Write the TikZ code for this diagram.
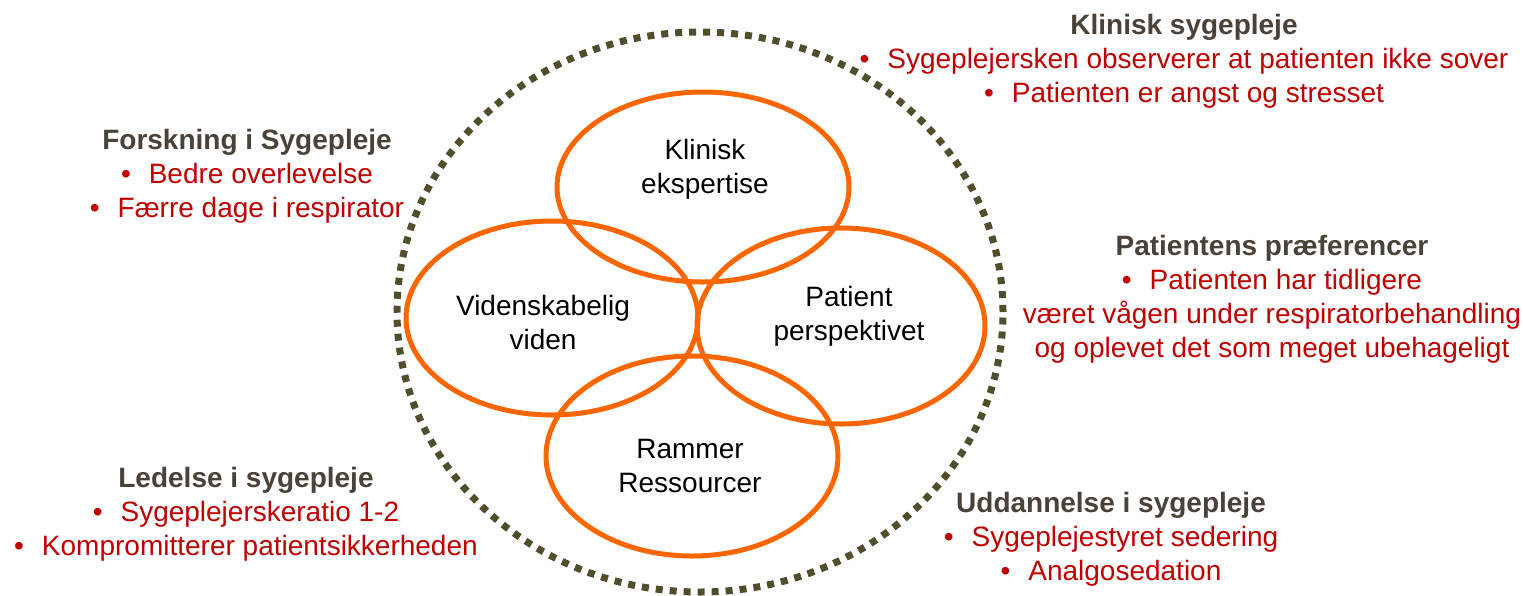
\documentclass[tikz,border=0pt]{standalone}
\usepackage{fontspec}
\setmainfont{Liberation Sans}
\usetikzlibrary{shapes.geometric}
\definecolor{dotcol}{RGB}{80,78,45}
\definecolor{orangec}{RGB}{255,102,0}
\definecolor{headc}{RGB}{74,66,56}
\definecolor{redc}{RGB}{192,0,0}
\begin{document}
\begin{tikzpicture}[x=1pt,y=-1pt,
  ring/.style={ellipse, draw=orangec, line width=5pt, inner sep=0pt, minimum width=292pt, minimum height=190pt},
  outer/.style={ellipse, draw=dotcol, line width=7pt, dash pattern=on 7pt off 7pt, inner sep=0pt},
  txt/.style={align=center, text=redc, font=\fontsize{28}{34}\selectfont, inner sep=0pt},
  inner/.style={align=center, text=black, font=\fontsize{28}{34}\selectfont, inner sep=0pt}]
\useasboundingbox (0,0) rectangle (1523,595);
\node[outer, minimum width=606pt, minimum height=560pt] (big) at (700,312) {};
\node[ring] (top) at (703,187) {};
\node[ring, minimum height=194pt] (left) at (552,318) {};
\node[ring, minimum width=288pt, minimum height=196pt] (right) at (841,326) {};
\node[ring, minimum height=200pt] (bottom) at (692,456) {};
\node[inner] (t1) at (705,169) {Klinisk\\ekspertise};
\node[inner] (t2) at (543,322) {Videnskabelig\\viden};
\node[inner] (t3) at (849,316) {Patient\\perspektivet};
\node[inner] (t4) at (690,466) {Rammer\\Ressourcer};
\node[txt] (ks) at (1184,61) {{\bfseries\color{headc}Klinisk sygepleje}\\•\hspace{18pt}Sygeplejersken observerer at patienten ikke sover\\•\hspace{18pt}Patienten er angst og stresset};
\node[txt] (fs) at (247,176) {{\bfseries\color{headc}Forskning i Sygepleje}\\•\hspace{18pt}Bedre overlevelse\\•\hspace{18pt}Færre dage i respirator};
\node[txt] (pp) at (1272,299) {{\bfseries\color{headc}Patientens præferencer}\\•\hspace{18pt}Patienten har tidligere\\været vågen under respiratorbehandling\\og oplevet det som meget ubehageligt};
\node[txt] (ls) at (246,514) {{\bfseries\color{headc}Ledelse i sygepleje}\\•\hspace{18pt}Sygeplejerskeratio 1-2\\•\hspace{18pt}Kompromitterer patientsikkerheden};
\node[txt] (us) at (1111,539) {{\bfseries\color{headc}Uddannelse i sygepleje}\\•\hspace{18pt}Sygeplejestyret sedering\\•\hspace{18pt}Analgosedation};
\end{tikzpicture}
\end{document}
